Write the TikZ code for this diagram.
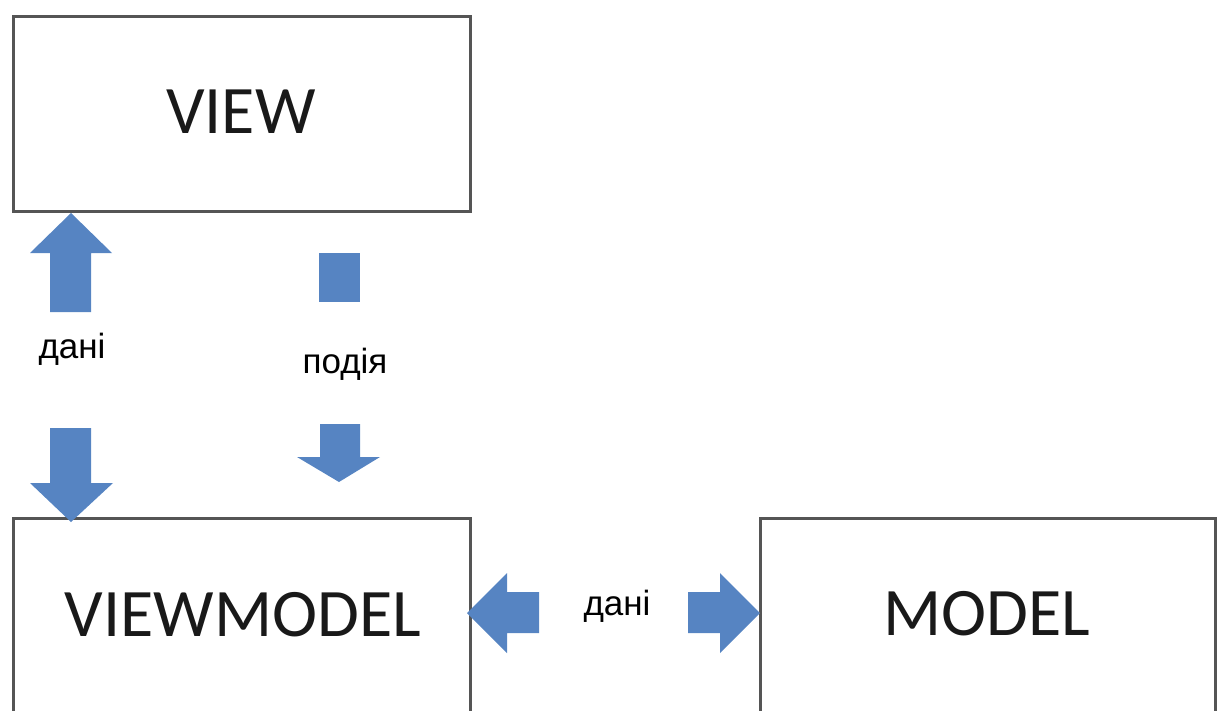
\documentclass[tikz,border=0pt]{standalone}
\usepackage{fontspec}
\setmainfont{Carlito}
\newfontfamily\lblfont{Liberation Sans}
\definecolor{arrowblue}{RGB}{86,132,194}
\definecolor{boxgray}{RGB}{85,85,85}
\begin{document}
\begin{tikzpicture}[x=1pt,y=-1pt,
  box/.style={draw=boxgray,line width=3pt,rectangle,inner sep=0pt},
  bigtext/.style={anchor=base,inner sep=0pt,font=\fontsize{68}{70}\selectfont,text=black!90},
  lbl/.style={anchor=base,inner sep=0pt,font=\lblfont\fontsize{35}{37}\selectfont,text=black},
  blockarrow/.style={fill=arrowblue,draw=none}]
\useasboundingbox (0,0) rectangle (1221,710);
\clip (0,0) rectangle (1221,710);
% boxes
\node[box,minimum width=457pt,minimum height=195pt] (view) at (241.5,113.5) {};
\node[box,minimum width=457pt,minimum height=260pt] (vm) at (241.5,648) {};
\node[box,minimum width=455pt,minimum height=260pt] (model) at (987.5,648) {};
% box texts
\node[bigtext] (viewt) at (241,133) {VIEW};
\node[bigtext] (vmt) at (243,636) {VIEWMODEL};
\node[bigtext] (modelt) at (987,635) {MODEL};
% labels
\node[lbl] (d1) at (72,358) {дані};
\node[lbl] (ev) at (345,373) {подія};
\node[lbl] (d2) at (617,615) {дані};
% up arrow (дані to VIEW)
\fill[blockarrow] (71,213) -- (112,253) -- (91,253) -- (91,312) -- (50,312) -- (50,253) -- (30,253) -- cycle;
% down arrow (дані to VIEWMODEL)
\fill[blockarrow] (50,428) -- (91,428) -- (91,483) -- (113,483) -- (71,522) -- (30,483) -- (50,483) -- cycle;
% event square
\fill[blockarrow] (319,253) rectangle (360,302);
% event down arrow
\fill[blockarrow] (320,424) -- (360,424) -- (360,457) -- (380,457) -- (339,482) -- (297,457) -- (320,457) -- cycle;
% left horizontal arrow
\fill[blockarrow] (467,613) -- (507,573) -- (507,592) -- (539,592) -- (539,633) -- (507,633) -- (507,653) -- cycle;
% right horizontal arrow
\fill[blockarrow] (688,592) -- (720,592) -- (720,573) -- (760,613) -- (720,653) -- (720,633) -- (688,633) -- cycle;
\end{tikzpicture}
\end{document}
